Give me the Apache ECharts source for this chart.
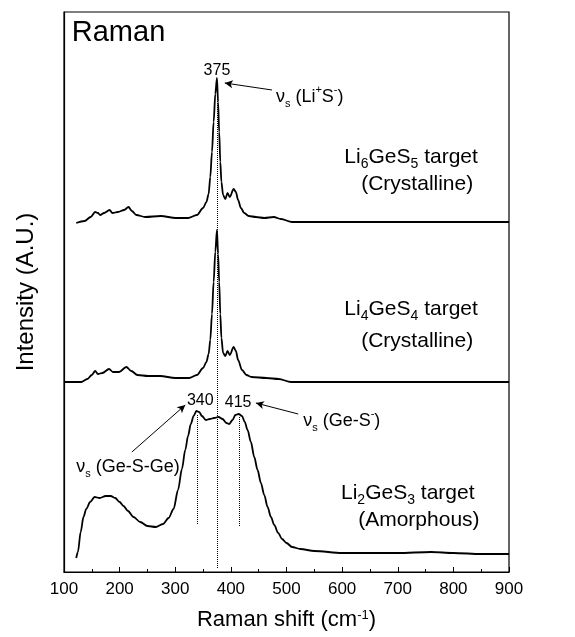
<!DOCTYPE html>
<html>
<head>
<meta charset="utf-8">
<title>Raman</title>
<script src="https://cdn.jsdelivr.net/npm/echarts@6/dist/echarts.min.js"></script>
<style>html,body{margin:0;padding:0;background:#fff;}</style>
</head>
<body>
<div id="main" style="width:575px;height:637px;"></div>
<script>
// Raman shift (cm-1) and stacked intensity (a.u., offsets included)
var li6Shift = [122,137,148,156,161,165,172,182,187,197,208,216,222,230,246,274,301,323,339,350,356,360,363,366,369,372,375,377,379,381,383,386,390,394,398,405,409,413,418,424,432,445,460,477,490,510,600,700,800,900];
var li6Int   = [349,351,355,360,359,357,359,362,359,360,362,365,361,357,355,356,354,354,357,364,370,378,395,420,450,478,494,470,440,410,390,377,373,379,375,383,380,372,364,359,356,355,354,355,353,350,350,350,350,350];

var li4Shift = [100,131,142,150,156,161,169,181,188,199,212,221,232,251,273,300,325,339,350,356,360,363,366,369,372,375,377,379,381,383,386,390,394,398,405,409,413,420,428,437,464,486,508,600,700,800,900];
var li4Int   = [190,190,193,197,201,198,199,203,200,200,205,201,197,196,196,194,194,197,204,210,218,232,258,290,320,342,318,290,258,234,219,216,221,217,225,221,212,202,197,195,194,193,190,190,190,190,190];

var li2Shift = [122,125,130,135,140,147,155,164,175,184,192,200,207,215,225,237,250,265,278,288,297,305,312,318,323,328,333,338,343,348,355,362,370,378,385,392,397,403,408,414,420,425,430,436,442,448,454,460,466,472,478,485,492,500,510,525,550,600,650,700,760,800,850,900];
var li2Int   = [14,20,40,55,63,70,75,74,76,76,74,70,66,61,55,50,46,45,48,54,63,82,103,122,136,148,156,161,160,156,152,153,154,155,153,149,148,152,157,158,156,150,142,130,115,102,89,77,65,55,47,39,33,29,25,23,21,19,19,19,20,19,18,18];

var xTicks = [100,200,300,400,500,600,700,800,900];

// peak guide lines (dotted): [shift, top, bottom]
var guides = [[375,479,4],[340,157,47],[415,155,46]];
// arrows: [fromX, fromY, toX, toY]
var arrows = [[474,482,389,489],[521,158,445,169],[222,120,318,167]];

var fontName = 'Liberation Sans, Arial, sans-serif';
var richStyle = {
  b: {fontSize: 14, lineHeight: 14, verticalAlign: 'bottom', fontFamily: fontName, fill: '#000'},
  s: {fontSize: 11, lineHeight: 10, verticalAlign: 'bottom', fontFamily: fontName, fill: '#000'},
  p: {fontSize: 11, lineHeight: 10, verticalAlign: 'top', fontFamily: fontName, fill: '#000'}
};
// text labels: [text, x, y, fontSize, align]
var labels = [
  ['Raman', 114, 539, 29, 'left'],
  ['375', 375, 501, 16, 'center'],
  ['ν{s|s} (Li{p|+}S{p|-})', 481, 475, 18, 'left'],
  ['Li{b|6}GeS{b|5} target', 724, 415, 21, 'center'],
  ['(Crystalline)', 735, 388, 21, 'center'],
  ['Li{b|4}GeS{b|4} target', 724, 263, 21, 'center'],
  ['(Crystalline)', 735, 231, 21, 'center'],
  ['340', 345, 171, 16, 'center'],
  ['415', 413, 169, 16, 'center'],
  ['ν{s|s} (Ge-S{p|-})', 530, 151, 18, 'left'],
  ['ν{s|s} (Ge-S-Ge)', 122, 105, 18, 'left'],
  ['Li{b|2}GeS{b|3} target', 718, 79, 21, 'center'],
  ['(Amorphous)', 738, 52, 21, 'center']
];

function pairs(xs, ys) {
  var out = [];
  for (var i = 0; i < xs.length; i++) out.push([xs[i], ys[i]]);
  return out;
}

var markData = [];
guides.forEach(function (g) {
  markData.push([{coord: [g[0], g[1]], symbol: 'none', lineStyle: {type: 'dotted', width: 1, color: '#000'}},
                 {coord: [g[0], g[2]], symbol: 'none'}]);
});
arrows.forEach(function (a) {
  markData.push([{coord: [a[0], a[1]], symbol: 'none', lineStyle: {type: 'solid', width: 1, color: '#000'}},
                 {coord: [a[2], a[3]], symbol: 'arrow', symbolSize: [6, 8]}]);
});

var myChart = echarts.init(document.getElementById('main'));

function lineSeries(name, data) {
  return {
    name: name,
    type: 'line',
    data: data,
    symbol: 'none',
    smooth: 0.3,
    smoothMonotone: 'x',
    lineStyle: {color: '#000', width: 1.8},
    animation: false
  };
}

var series = [
  lineSeries('Li6GeS5', pairs(li6Shift, li6Int)),
  lineSeries('Li4GeS4', pairs(li4Shift, li4Int)),
  lineSeries('Li2GeS3', pairs(li2Shift, li2Int))
];
series[2].markLine = {
  silent: true,
  animation: false,
  label: {show: false},
  symbol: ['none', 'none'],
  data: markData
};

var option = {
  animation: false,
  backgroundColor: '#fff',
  grid: {left: 64, right: 66, top: 12, bottom: 65, show: true, borderColor: '#000', borderWidth: 1.2, backgroundColor: 'transparent'},
  xAxis: {
    type: 'value',
    min: 100, max: 900, interval: 100,
    name: 'Raman shift (cm{p|-1})',
    nameLocation: 'middle',
    nameGap: 37,
    nameTextStyle: {fontSize: 22, color: '#000', fontFamily: fontName,
      rich: {p: {fontSize: 13, verticalAlign: 'top', lineHeight: 14, color: '#000', fontFamily: fontName}}},
    axisLine: {lineStyle: {color: '#000', width: 1.2}},
    axisTick: {inside: true, length: 5, lineStyle: {color: '#000'}},
    minorTick: {show: true, splitNumber: 2, length: 3, lineStyle: {color: '#000'}},
    axisLabel: {fontSize: 17, color: '#000', fontFamily: fontName, margin: 9,
      formatter: function (v) { return xTicks.indexOf(v) >= 0 ? String(v) : ''; }},
    splitLine: {show: false}
  },
  yAxis: {
    type: 'value',
    min: 0, max: 560,
    name: 'Intensity (A.U.)',
    nameLocation: 'middle',
    nameGap: 26,
    nameTextStyle: {fontSize: 24, color: '#000', fontFamily: fontName},
    axisLine: {show: true, lineStyle: {color: '#000', width: 1.2}},
    axisTick: {show: false},
    axisLabel: {show: false},
    splitLine: {show: false}
  },
  series: series
};
myChart.setOption(option);

var graphics = labels.map(function (l) {
  var p = myChart.convertToPixel({gridIndex: 0}, [l[1], l[2]]);
  return {
    type: 'text',
    x: p[0], y: p[1],
    silent: true,
    style: {
      text: l[0],
      fontSize: l[3],
      fontFamily: fontName,
      fill: '#000',
      align: l[4],
      verticalAlign: 'middle',
      lineHeight: Math.round(l[3] * 1.4),
      rich: richStyle
    }
  };
});
myChart.setOption({graphic: graphics});
</script>
</body>
</html>
